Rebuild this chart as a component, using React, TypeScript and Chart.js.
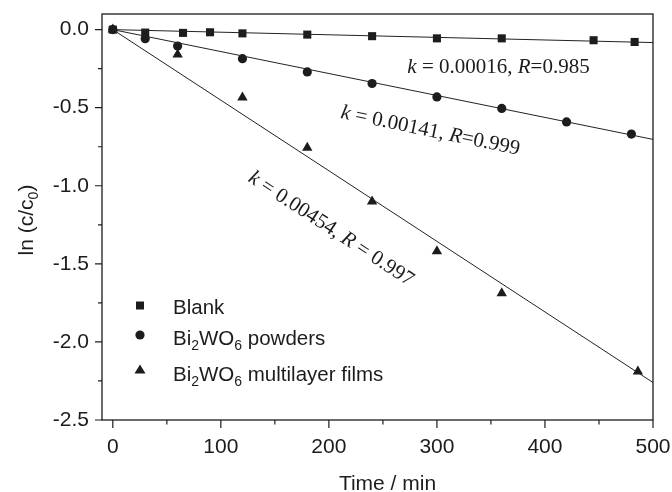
import React, { useEffect, useRef } from "react";
import { Chart, registerables } from "chart.js";

Chart.register(...registerables);

// ---- data ----
const blankX = [0, 30, 65, 90, 120, 180, 240, 300, 360, 445, 483];
const blankY = [0, -0.019, -0.021, -0.017, -0.024, -0.032, -0.042, -0.056, -0.056, -0.068, -0.079];

const powderX = [0, 30, 60, 120, 180, 240, 300, 360, 420, 480];
const powderY = [0, -0.058, -0.105, -0.186, -0.271, -0.345, -0.431, -0.505, -0.591, -0.669];

const filmX = [0, 60, 120, 180, 240, 300, 360, 486];
const filmY = [0, -0.16, -0.434, -0.757, -1.1, -1.42, -1.688, -2.19];

const fitX = [0, 500];
const blankFitY = [0, -0.083];
const powderFitY = [0, -0.703];
const filmFitY = [0, -2.26];

const xMajor = [0, 100, 200, 300, 400, 500];
const xMinor = [50, 150, 250, 350, 450];
const yMajor = [-2.5, -2, -1.5, -1, -0.5, 0];
const yMinor = [-2.25, -1.75, -1.25, -0.75, -0.25];

// text parts: [text, isSub/isItalic]
const legendBlank: [string, boolean][] = [["Blank", false]];
const legendPowder: [string, boolean][] = [["Bi", false], ["2", true], ["WO", false], ["6", true], [" powders", false]];
const legendFilm: [string, boolean][] = [["Bi", false], ["2", true], ["WO", false], ["6", true], [" multilayer films", false]];

const yTitle: [string, boolean][] = [["ln (c/c", false], ["0", true], [")", false]];
const xTitle = "Time / min";

const annBlank: [string, boolean][] = [["k", true], [" = 0.00016, ", false], ["R", true], ["=0.985", false]];
const annPowder: [string, boolean][] = [["k", true], [" = 0.00141, ", false], ["R", true], ["=0.999", false]];
const annFilm: [string, boolean][] = [["k", true], [" = 0.00454, ", false], ["R", true], [" = 0.997", false]];
// anchor (data coords) and angle (deg)
const annAnchors = [
  { parts: annBlank, x: 357, y: -0.241, angle: 0 },
  { parts: annPowder, x: 294, y: -0.65, angle: 11.7 },
  { parts: annFilm, x: 202, y: -1.277, angle: 33.2 },
];

const SANS = "'Liberation Sans', Arial, sans-serif";
const SERIF = "'Liberation Serif', 'Times New Roman', serif";
const INK = "#1c1c1c";

const toXY = (xs: number[], ys: number[]) => xs.map((x, i) => ({ x, y: ys[i] }));

function drawSubText(ctx: CanvasRenderingContext2D, parts: [string, boolean][], x: number, y: number, size: number, subSize: number, subShift: number, align: "left" | "center") {
  const mainFont = `${size}px ${SANS}`;
  const subFont = `${subSize}px ${SANS}`;
  let total = 0;
  for (const [t, s] of parts) {
    ctx.font = s ? subFont : mainFont;
    total += ctx.measureText(t).width;
  }
  let cx = align === "center" ? x - total / 2 : x;
  ctx.textAlign = "left";
  for (const [t, s] of parts) {
    ctx.font = s ? subFont : mainFont;
    ctx.fillText(t, cx, s ? y + subShift : y);
    cx += ctx.measureText(t).width;
  }
}

const decorPlugin = {
  id: "decor",
  afterDraw(chart: any) {
    const { ctx, chartArea } = chart;
    const { left, right, top, bottom } = chartArea;
    const xs = chart.scales.x;
    const ys = chart.scales.y;
    ctx.save();
    ctx.strokeStyle = INK;
    ctx.fillStyle = INK;
    // frame
    ctx.lineWidth = 1.3;
    ctx.strokeRect(left, top, right - left, bottom - top);
    // ticks
    ctx.lineWidth = 1.2;
    ctx.beginPath();
    for (const v of xMajor) {
      const p = xs.getPixelForValue(v);
      ctx.moveTo(p, bottom);
      ctx.lineTo(p, bottom + 8);
    }
    for (const v of xMinor) {
      const p = xs.getPixelForValue(v);
      ctx.moveTo(p, bottom);
      ctx.lineTo(p, bottom + 4.5);
    }
    for (const v of yMajor) {
      const p = ys.getPixelForValue(v);
      ctx.moveTo(left, p);
      ctx.lineTo(left - 7, p);
    }
    for (const v of yMinor) {
      const p = ys.getPixelForValue(v);
      ctx.moveTo(left, p);
      ctx.lineTo(left - 4, p);
    }
    ctx.stroke();

    // axis titles
    ctx.textBaseline = "alphabetic";
    ctx.font = `21px ${SANS}`;
    ctx.textAlign = "center";
    ctx.fillText(xTitle, (left + right) / 2 + 10, 490);

    ctx.save();
    ctx.translate(33, (top + bottom) / 2 + 3);
    ctx.rotate(-Math.PI / 2);
    drawSubText(ctx, yTitle, 0, 0, 21, 14, 5, "center");
    ctx.restore();

    // legend
    const mx = left + 38;
    const tx = left + 71;
    ctx.fillRect(mx - 4, 301.5, 8, 8);
    ctx.beginPath();
    ctx.arc(mx, 335, 4.6, 0, Math.PI * 2);
    ctx.fill();
    ctx.beginPath();
    ctx.moveTo(mx, 364.5);
    ctx.lineTo(mx + 5.5, 373.5);
    ctx.lineTo(mx - 5.5, 373.5);
    ctx.closePath();
    ctx.fill();
    drawSubText(ctx, legendBlank, tx, 314, 20.5, 14, 5, "left");
    drawSubText(ctx, legendPowder, tx, 345, 20.5, 14, 5, "left");
    drawSubText(ctx, legendFilm, tx, 380.5, 20.5, 14, 5, "left");

    // annotations
    const italic = `italic 21px ${SERIF}`;
    const normal = `21px ${SERIF}`;
    for (const a of annAnchors) {
      const px = xs.getPixelForValue(a.x);
      const py = ys.getPixelForValue(a.y);
      ctx.save();
      ctx.translate(px, py);
      ctx.rotate((a.angle * Math.PI) / 180);
      ctx.textBaseline = "middle";
      ctx.textAlign = "left";
      let total = 0;
      for (const [t, it] of a.parts) {
        ctx.font = it ? italic : normal;
        total += ctx.measureText(t).width;
      }
      let cx = -total / 2;
      for (const [t, it] of a.parts) {
        ctx.font = it ? italic : normal;
        ctx.fillText(t, cx, 0);
        cx += ctx.measureText(t).width;
      }
      ctx.restore();
    }
    ctx.restore();
  },
};

export default function App() {
  const canvasRef = useRef<HTMLCanvasElement | null>(null);

  useEffect(() => {
    document.body.style.margin = "0";
    const canvas = canvasRef.current;
    if (!canvas) return;
    const lineDs = (ys: number[]) => ({
      type: "line" as const,
      data: toXY(fitX, ys),
      borderColor: "#222",
      borderWidth: 1,
      pointRadius: 0,
      fill: false,
    });
    const chart = new Chart(canvas, {
      type: "scatter",
      data: {
        datasets: [
          lineDs(blankFitY),
          lineDs(powderFitY),
          lineDs(filmFitY),
          {
            label: "Blank",
            data: toXY(blankX, blankY),
            pointStyle: "rect",
            pointRadius: 5.7,
            backgroundColor: INK,
            borderColor: INK,
            borderWidth: 0,
          },
          {
            label: "Bi2WO6 powders",
            data: toXY(powderX, powderY),
            pointStyle: "circle",
            pointRadius: 4.6,
            backgroundColor: INK,
            borderColor: INK,
            borderWidth: 0,
          },
          {
            label: "Bi2WO6 multilayer films",
            data: toXY(filmX, filmY),
            pointStyle: "triangle",
            pointRadius: 6,
            backgroundColor: INK,
            borderColor: INK,
            borderWidth: 0,
          },
        ] as any,
      },
      options: {
        responsive: false,
        maintainAspectRatio: false,
        animation: false,
        layout: { padding: { left: 0, right: 19, top: 14, bottom: 0 } },
        plugins: {
          legend: { display: false },
          tooltip: { enabled: false },
        },
        scales: {
          x: {
            type: "linear",
            min: -10,
            max: 500,
            grid: { display: false, drawTicks: false },
            border: { display: false },
            afterBuildTicks: (s: any) => {
              s.ticks = xMajor.map((v) => ({ value: v }));
            },
            afterFit: (s: any) => {
              s.height = 72;
              s.paddingLeft = 0;
              s.paddingRight = 0;
              s.paddingTop = 0;
              s.paddingBottom = 0;
            },
            ticks: {
              color: INK,
              font: { family: SANS, size: 21 },
              padding: 15,
              maxRotation: 0,
              callback: (v: any) => String(v),
            },
          },
          y: {
            type: "linear",
            min: -2.5,
            max: 0.1,
            grid: { display: false, drawTicks: false },
            border: { display: false },
            afterBuildTicks: (s: any) => {
              s.ticks = yMajor.map((v) => ({ value: v }));
            },
            afterFit: (s: any) => {
              s.width = 102;
              s.paddingLeft = 0;
              s.paddingRight = 0;
              s.paddingTop = 0;
              s.paddingBottom = 0;
            },
            ticks: {
              color: INK,
              font: { family: SANS, size: 21 },
              padding: 13,
              callback: (v: any) => Number(v).toFixed(1),
            },
          },
        },
      },
      plugins: [decorPlugin],
    });
    return () => chart.destroy();
  }, []);

  return (
    <div style={{ position: "absolute", left: 0, top: 0, width: 672, height: 492, background: "#fff" }}>
      <canvas ref={canvasRef} width={672} height={492} style={{ width: 672, height: 492 }} />
    </div>
  );
}
